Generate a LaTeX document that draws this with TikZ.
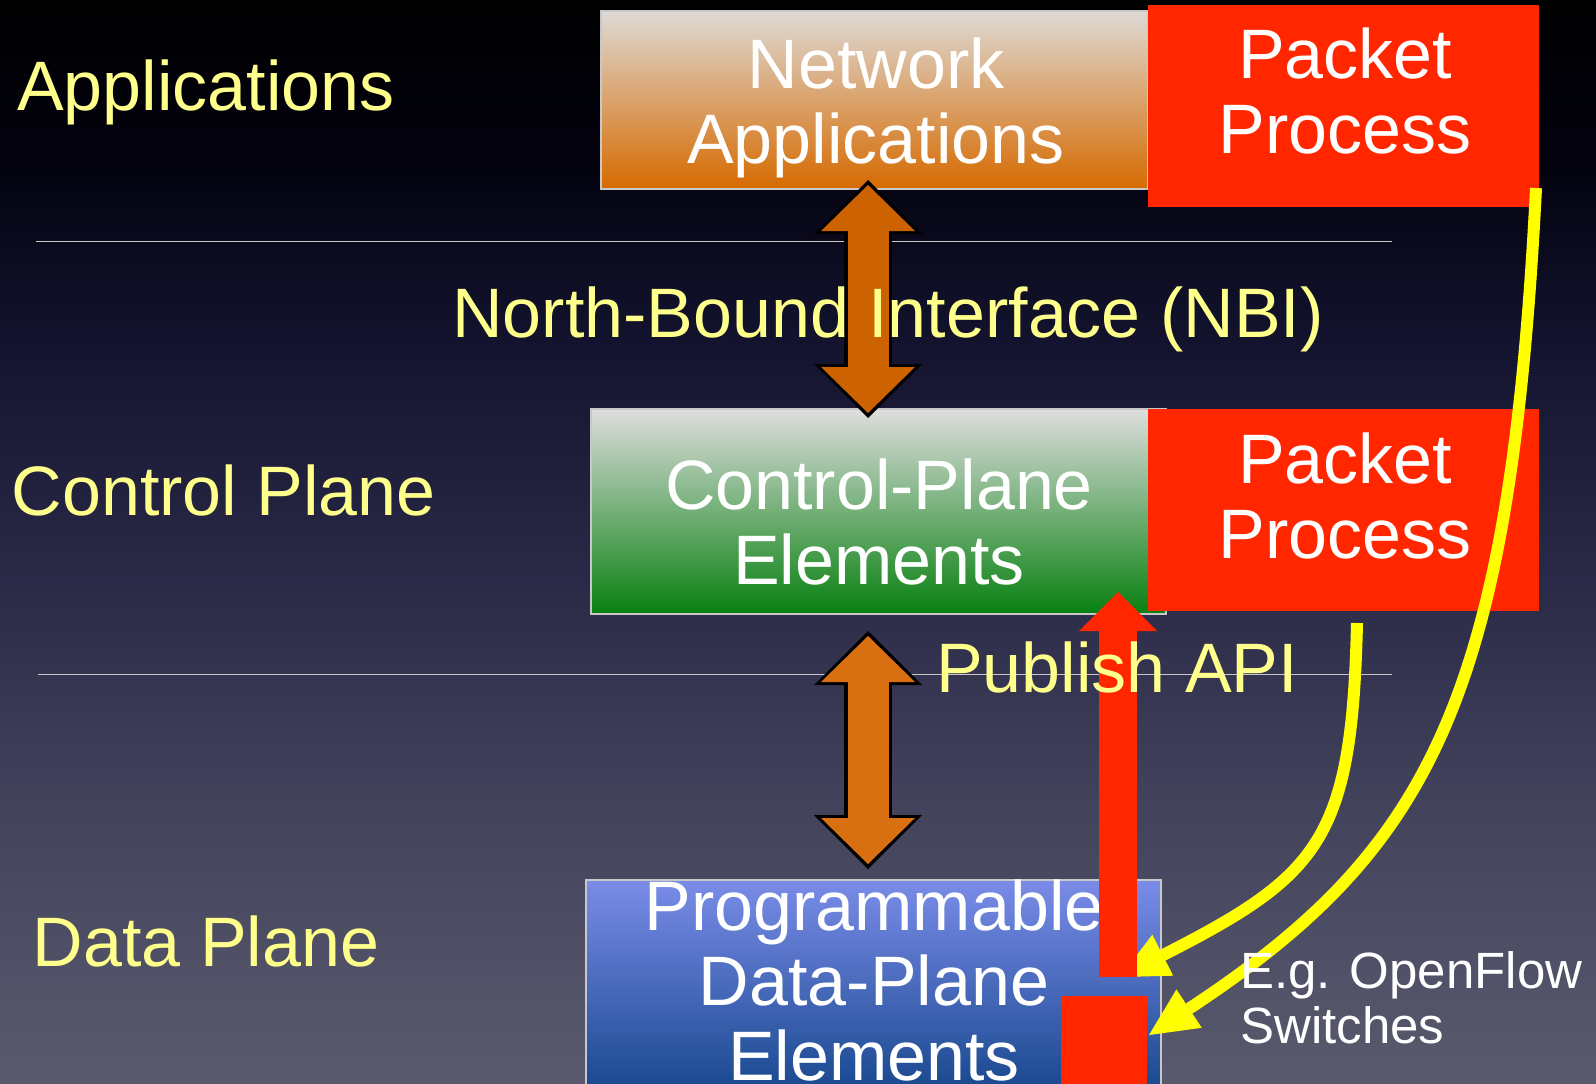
\documentclass[tikz,border=0pt]{standalone}
\usepackage{fontspec}
\setmainfont{Liberation Sans}
\usetikzlibrary{arrows.meta}
\usetikzlibrary{positioning}
\usetikzlibrary{calc}
\definecolor{labelyellow}{RGB}{255,255,140}
\definecolor{flowyellow}{RGB}{255,255,0}
\definecolor{pktred}{RGB}{255,38,0}
\definecolor{bgbottom}{RGB}{90,90,110}
\definecolor{bglow}{RGB}{64,64,90}
\definecolor{bgmid}{RGB}{42,42,72}
\definecolor{bghigh}{RGB}{20,20,48}
\definecolor{bgdark}{RGB}{4,3,16}
\definecolor{appstop}{RGB}{222,218,214}
\definecolor{appsbottom}{RGB}{214,106,0}
\definecolor{ctrltop}{RGB}{222,222,222}
\definecolor{ctrlbottom}{RGB}{8,128,16}
\definecolor{datatop}{RGB}{122,140,232}
\definecolor{databottom}{RGB}{24,72,142}
\definecolor{nbiorange}{RGB}{204,98,0}
\definecolor{apiorange}{RGB}{216,112,18}
\definecolor{rulegray}{RGB}{200,200,200}
\pgfdeclareverticalshading{slidebg}{100bp}{color(0bp)=(bgbottom); color(25bp)=(bgbottom);
  color(39bp)=(bglow); color(48.25bp)=(bgmid); color(58.86bp)=(bghigh);
  color(67.16bp)=(bgdark); color(75bp)=(black); color(100bp)=(black)}

\tikzset{
  apiout/.tip={Triangle[length=54pt,width=108pt,line width=0pt]},
  apiin/.tip={Triangle[length=46pt,width=94pt,line width=0pt]},
  pubtip/.tip={Triangle[length=39pt,width=78pt,line width=0pt]},
  flowtip/.tip={Triangle[length=48pt,width=46pt,line width=0pt]},
  layerbox/.style={draw=rulegray,line width=2pt,anchor=north west,inner sep=0pt,outer sep=0pt},
  pktbox/.style={fill=pktred,anchor=north west,inner sep=0pt,outer sep=0pt},
  boxtext/.style={text=white,align=center,anchor=north,inner sep=0pt,font=\fontsize{70}{75}\selectfont},
  layertext/.style={text=labelyellow,anchor=base west,inner sep=0pt,font=\fontsize{70}{84}\selectfont},
  apiblack/.style={draw=black,line width=48pt,apiout-apiout},
  apifill/.style={draw=#1,line width=41pt,shorten <=5pt,shorten >=5pt,apiin-apiin},
  pubarrow/.style={draw=pktred,line width=38pt,-pubtip},
  flowarrow/.style={draw=flowyellow,line width=12pt,-flowtip}
}

\begin{document}
\begin{tikzpicture}[x=1pt,y=-1pt]
\clip (0,0) rectangle (1596,1084);
\shade[shading=slidebg] (0,0) rectangle (1596,1084);
% layer rules
\draw[rulegray,line width=1.5pt] (36,241.7) -- (1392,241.7);
\draw[rulegray,line width=1.5pt] (38,674.5) -- (1392,674.5);
% boxes
\node[layerbox,top color=appstop,bottom color=appsbottom,minimum width=547pt,minimum height=178pt] (netapp) at (601,11) {};
\node[pktbox,minimum width=391pt,minimum height=202pt] (pkt1) at (1148,5) {};
\node[layerbox,top color=ctrltop,bottom color=ctrlbottom,minimum width=575pt,minimum height=205pt] (ctrl) at (591,409) {};
\node[pktbox,minimum width=391pt,minimum height=202pt] (pkt2) at (1148,409) {};
\node[layerbox,top color=datatop,bottom color=databottom,minimum width=575pt,minimum height=212pt] (dataplane) at (586,880) {};
\node[boxtext] (netapp-txt) at (876,38) {Network\\Applications};
\node[boxtext] (pkt1-txt) at (1345,28) {Packet\\Process};
\node[boxtext] (ctrl-txt) at (879,459) {Control-Plane\\Elements};
\node[boxtext] (pkt2-txt) at (1345,433) {Packet\\Process};
\node[boxtext] (dataplane-txt) at (874,880) {Programmable\\Data-Plane\\Elements};
% interfaces
\coordinate (axis) at (868,0);
\draw[apiblack] ($(axis |- netapp.south)+(0,-9)$) -- ($(axis |- ctrl.north)+(0,9)$);
\draw[apifill=nbiorange] ($(axis |- netapp.south)+(0,-9)$) -- ($(axis |- ctrl.north)+(0,9)$);
\draw[apiblack] ($(axis |- ctrl.south)+(0,17)$) -- ($(axis |- dataplane.north)+(0,-11)$);
\draw[apifill=apiorange] ($(axis |- ctrl.south)+(0,17)$) -- ($(axis |- dataplane.north)+(0,-11)$);
% packet paths
\coordinate (pkt1foot) at (1536,188);
\coordinate (pkt2foot) at (1357,623);
\coordinate (pubfoot) at (1118,977);
\draw[flowarrow] (pkt2foot) .. controls (1352,840) and (1320,875) .. ($(pubfoot)+(2,0)$);
\draw[pubarrow] (pubfoot) -- ($(pubfoot |- ctrl.south)+(0,-22)$);
\node[pktbox,minimum width=86pt,minimum height=100pt] (switchpkt) at (1061,996) {};
\draw[flowarrow] (pkt1foot) .. controls (1510,700) and (1430,850) .. ($(switchpkt.north east)+(2,39)$);
% labels
\node[layertext] (apps-lbl) at (17,110.5) {Applications};
\node[layertext] (ctrl-lbl) at (11.5,515) {Control Plane};
\node[layertext] (data-lbl) at (32.6,966) {Data Plane};
\node[layertext,anchor=base] (nbi-lbl) at (888,337) {North-Bound Interface (NBI)};
\node[layertext] (pub-lbl) at (936,692) {Publish API};
\node[text=white,align=left,anchor=north west,inner sep=0pt,font=\fontsize{51}{55}\selectfont] (switch-lbl) at (1240,951.5) {E.g. OpenFlow\\Switches};
\end{tikzpicture}
\end{document}
